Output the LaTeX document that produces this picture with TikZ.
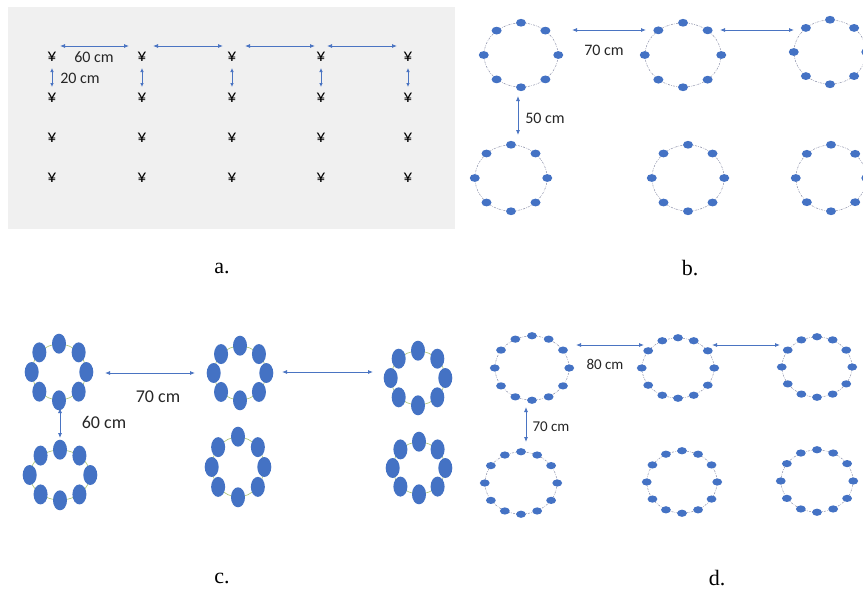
\documentclass[tikz,border=0pt]{standalone}
\usepackage{fontspec}
\setmainfont{Liberation Serif}
\newfontfamily\calibri{Carlito}
\usetikzlibrary{arrows.meta,shapes.geometric}
\definecolor{dotblue}{HTML}{4472C4}
\definecolor{arrblue}{HTML}{4A74C2}
\definecolor{panelgray}{HTML}{F0F0F0}
\definecolor{ringgray}{HTML}{8A8EA8}
\definecolor{chaingreen}{HTML}{A9C26E}
\definecolor{txt}{HTML}{262626}
\newcommand\ringB[5]{%
  \node[ringb, minimum width=#4pt, minimum height=#5pt] (#1) at (#2,#3) {};
  \foreach \a in {90,135,180,225,270,315,0,45}
    \fill[dotblue] (#1.\a) ellipse [x radius=5, y radius=3.9];}
\newcommand\ringC[5]{%
  \node[ringc, minimum width=#4pt, minimum height=#5pt] (#1) at (#2,#3) {};
  \foreach \a in {90,135,180,225,270,315,0,45}
    \fill[dotblue] (#1.\a) ellipse [x radius=7, y radius=10];}
\newcommand\ringD[5]{%
  \node[ringb, minimum width=#4pt, minimum height=#5pt] (#1) at (#2,#3) {};
  \foreach \a in {90,120,...,420}
    \fill[dotblue] (#1.\a) ellipse [x radius=4.9, y radius=3.6];}
\begin{document}
\begin{tikzpicture}[x=1pt,y=-1pt,
  ringb/.style={ellipse, draw=ringgray, line width=0.5pt,
    dash pattern=on 2pt off 1.2pt on 0.6pt off 1.2pt, inner sep=0pt},
  ringc/.style={ellipse, draw=chaingreen, line width=0.6pt, inner sep=0pt},
  yen/.style={font=\calibri\fontsize{18}{20}\selectfont, text=black, inner sep=0pt},
  arr/.style={draw=arrblue, line width=0.8pt, {Latex[length=5pt,width=4pt]}-{Latex[length=5pt,width=4pt]}},
  sarr/.style={draw=arrblue, line width=0.8pt, {Latex[length=4pt,width=3.6pt]}-{Latex[length=4pt,width=3.6pt]}},
  lab/.style={font=\calibri\fontsize{16}{18}\selectfont, text=txt, inner sep=0pt},
  paneltag/.style={font=\fontsize{22}{24}\selectfont, text=black, inner sep=0pt}]
\useasboundingbox (0,0) rectangle (863,592);
\fill[white] (0,0) rectangle (863,592);

% ---------- panel a ----------
\node[fill=panelgray, minimum width=447pt, minimum height=222pt, anchor=north west, inner sep=0pt] (pa) at (8,7) {};
\foreach \i/\x in {1/52,2/142,3/232,4/321,5/408}
  \foreach \j/\y in {1/57,2/98,3/138,4/178}
    \node[yen] (y\i\j) at (\x,\y) {¥};
\foreach \i in {1,...,5}
  \draw[sarr, shorten <=11pt, shorten >=11pt] (y\i1.center) -- (y\i2.center);
\draw[arr, transform canvas={yshift=11pt}, shorten <=8pt, shorten >=13pt] (y11.center) -- (y21.center);
\draw[arr, transform canvas={yshift=11pt}, shorten <=11pt, shorten >=9pt] (y21.center) -- (y31.center);
\draw[arr, transform canvas={yshift=11pt}, shorten <=13pt, shorten >=6pt] (y31.center) -- (y41.center);
\draw[arr, transform canvas={yshift=11pt}, shorten <=6pt, shorten >=11pt] (y41.center) -- (y51.center);
\node[lab] (t60a) at (94,57) {60 cm};
\node[lab] (t20a) at (80,78) {20 cm};
\node[paneltag] (capa) at (222,268) {a.};

% ---------- panel b ----------
\ringB{b1}{521}{55}{74}{64}
\ringB{b2}{683}{55}{76}{64}
\ringB{b3}{830}{52}{72}{64}
\ringB{b4}{511}{178}{72}{66}
\ringB{b5}{688}{178}{72}{66}
\ringB{b6}{831}{178}{70}{66}
\coordinate (bh1) at (572,30); \coordinate (bh2) at (646,30);
\coordinate (bh3) at (720,30); \coordinate (bh4) at (794,30);
\coordinate (bv1) at (518,96); \coordinate (bv2) at (518,135);
\draw[arr] (bh1) -- (bh2);
\draw[arr] (bh3) -- (bh4);
\draw[arr] (bv1) -- (bv2);
\node[lab] (t70b) at (604,50) {70 cm};
\node[lab] (t50b) at (545,118) {50 cm};
\node[paneltag] (capb) at (690,268) {b.};

% ---------- panel c ----------
\ringC{c1}{59}{372}{54}{56}
\ringC{c2}{240}{373}{52}{54}
\ringC{c3}{418}{378}{54}{54}
\ringC{c4}{60}{475}{60}{50}
\ringC{c5}{238}{467}{52}{60}
\ringC{c6}{419}{468}{52}{52}
\coordinate (ch1) at (105,373); \coordinate (ch2) at (195,373);
\coordinate (ch3) at (282,372); \coordinate (ch4) at (373,372);
\coordinate (cv1) at (60,408); \coordinate (cv2) at (60,438);
\draw[arr] (ch1) -- (ch2);
\draw[arr] (ch3) -- (ch4);
\draw[arr] (cv1) -- (cv2);
\node[lab, font=\calibri\fontsize{18}{20}\selectfont] (t70c) at (158,397) {70 cm};
\node[lab, font=\calibri\fontsize{18}{20}\selectfont] (t60c) at (104,422) {60 cm};
\node[paneltag] (capc) at (222,578) {c.};

% ---------- panel d ----------
\ringD{d1}{532}{368}{74}{64}
\ringD{d2}{678}{368}{72}{60}
\ringD{d3}{817}{367}{70}{60}
\ringD{d4}{521}{483}{72}{62}
\ringD{d5}{682}{482}{70}{62}
\ringD{d6}{817}{481}{72}{62}
\coordinate (dh1) at (576,345); \coordinate (dh2) at (644,345);
\coordinate (dh3) at (712,345); \coordinate (dh4) at (780,345);
\coordinate (dv1) at (526,407); \coordinate (dv2) at (526,442);
\draw[arr] (dh1) -- (dh2);
\draw[arr] (dh3) -- (dh4);
\draw[arr] (dv1) -- (dv2);
\node[lab, font=\calibri\fontsize{15}{17}\selectfont] (t80d) at (605,364) {80 cm};
\node[lab, font=\calibri\fontsize{15}{17}\selectfont] (t70d) at (551,427) {70 cm};
\node[paneltag] (capd) at (717,578) {d.};
\end{tikzpicture}
\end{document}
